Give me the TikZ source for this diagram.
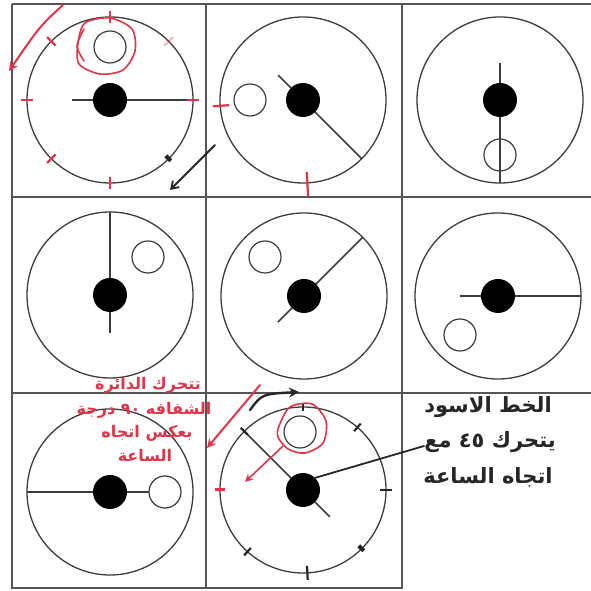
\documentclass[tikz,border=0pt]{standalone}
\usepackage{fontspec}
\usepackage{xcolor}
\usepackage{tikz}
\usetikzlibrary{arrows.meta, positioning, calc}
\newfontfamily\arabicfont[Script=Arabic]{DejaVu Sans}
\TeXXeTstate=1
\definecolor{gridgray}{RGB}{85,85,85}
\definecolor{dialgray}{RGB}{60,60,60}
\definecolor{penred}{RGB}{226,52,72}

\tikzset{
  dial/.style={circle, draw=dialgray, line width=1.3pt, minimum size=166pt, inner sep=0pt},
  hub/.style={circle, fill=black, minimum size=34pt, inner sep=0pt},
  ring/.style={circle, draw=dialgray, line width=1.2pt, minimum size=32pt, inner sep=0pt},
  hand/.style={draw=dialgray, line width=1.5pt},
  gridline/.style={draw=gridgray, line width=2pt},
  redpen/.style={draw=penred, line width=1.6pt, line cap=round, line join=round},
  blackpen/.style={draw=black!85, line width=1.8pt, line cap=round},
  redtick/.style={draw=penred, line width=2.2pt},
  blacktick/.style={draw=black!85, line width=2.2pt},
  redtext/.style={text=penred, font=\arabicfont\bfseries\fontsize{16}{18}\selectfont, inner sep=0pt},
  notetext/.style={text=black!85, font=\arabicfont\bfseries\fontsize{21}{24}\selectfont, inner sep=0pt}
}

\begin{document}
\begin{tikzpicture}[x=1pt, y=1pt]
\useasboundingbox (0,0) rectangle (591,591);

% Grid
\draw[gridline] (12,587) -- (591,587);
\draw[gridline] (12,394) -- (591,394);
\draw[gridline] (12,198) -- (591,198);
\draw[gridline] (12,587) -- (12,3) -- (402,3) -- (402,587);
\draw[gridline] (206,3) -- (206,587);

% Dials: center, small ring, two hand ends
\foreach \i/\x/\y/\rx/\ry/\aa/\la/\ab/\lb in {
    1/110/491/110/544/180/38/0/83,
    2/303/491/250/491/135/35/-45/83,
    3/500/491/500/436/90/37/-90/83,
    4/110/296/148/334/90/83/-90/38,
    5/304/295/265/334/45/83/225/37,
    6/498/295/460/256/180/38/0/83,
    7/110/99/165/99/180/83/0/39,
    8/303/101/300/159/135/83/-45/38
} {
    \node[dial] (d\i) at (\x,\y) {};
    \draw[hand] (d\i.center) -- ++(\aa:\la) (d\i.center) -- ++(\ab:\lb);
    \node[hub] (h\i) at (d\i.center) {};
    \node[ring] (r\i) at (\rx,\ry) {};
}

% Marks on the first dial
\foreach \a in {90,0,-90,-135,180,135}
    \draw[redtick] (d1.center) ++(\a:77) -- ++(\a:12);
\draw[redtick, opacity=0.35] (d1.center) ++(45:77) -- ++(45:12);
\draw[blacktick, line width=4pt] (d1.center) ++(-45:79) -- ++(-45:7);
\draw[redpen] plot[smooth cycle] coordinates {(78,548) (85,568) (110,573) (132,562) (135,540) (123,521) (100,517) (79,527)};
\draw[redpen] plot[smooth] coordinates {(84,562) (77,545) (84,530)};
\coordinate (s1) at (63,586);
\coordinate (e1) at (9,520);
\draw[redpen, line width=2pt, -{Stealth[length=9pt,width=9pt]}] (s1) .. controls (40,565) .. (e1);
\coordinate (s2) at (215,446);
\coordinate (e2) at (170,401);
\draw[blackpen, -{Straight Barb[length=7pt,width=9pt]}] (s2) -- (e2);

% Marks on the second dial
\draw[redtick] (d2.center) ++(184:74) -- ++(184:16);
\draw[redtick] (d2.center) ++(-87:72) -- ++(-87:24);

% Marks on the eighth dial
\foreach \a/\l in {90/8,49/10,0/12,-87/14,-132/10,135/10}
    \draw[blacktick] (d8.center) ++(\a:83-\l/2) -- ++(\a:\l);
\draw[blacktick, line width=4pt] (d8.center) ++(-45:79) -- ++(-45:7);
\draw[redtick, line width=3pt] (d8.center) ++(180:78) -- ++(180:10);
\coordinate (s4) at (250,181);
\coordinate (e4) at (299,199);
\draw[blackpen, line width=2.4pt, -{Stealth[length=10pt,width=10pt]}] (s4) .. controls (262,197) .. (e4);
\draw[redpen] plot[smooth cycle] coordinates {(279,165) (290,184) (312,187) (326,170) (323,148) (305,138) (288,142) (278,154)};
\coordinate (s5) at (283,145);
\coordinate (e5) at (245,109);
\draw[redpen, -{Stealth[length=8pt,width=8pt]}] (s5) -- (e5);
\coordinate (s3) at (260,206);
\coordinate (e3) at (207,143);
\draw[redpen, line width=2pt, -{Stealth[length=9pt,width=9pt]}] (s3) -- (e3);

% Red note
\node[redtext] (t1) at (148,206) {\beginR تتحرك الدائرة\endR};
\node[redtext] (t2) at (144,181) {\beginR الشفافه \beginL ٩٠\endL{} درجة\endR};
\node[redtext] (t3) at (147,158) {\beginR بعكس اتجاه\endR};
\node[redtext] (t4) at (145,135) {\beginR الساعة\endR};

% Black note
\node[notetext] (n1) at (488,184) {\beginR الخط الاسود\endR};
\node[notetext] (n2) at (490,149) {\beginR يتحرك \beginL ٤٥\endL{} مع\endR};
\node[notetext] (n3) at (488,114) {\beginR اتجاه الساعة\endR};
\draw[blackpen] (h8.north east) -- ([yshift=-4pt]n2.west);
\end{tikzpicture}
\end{document}
